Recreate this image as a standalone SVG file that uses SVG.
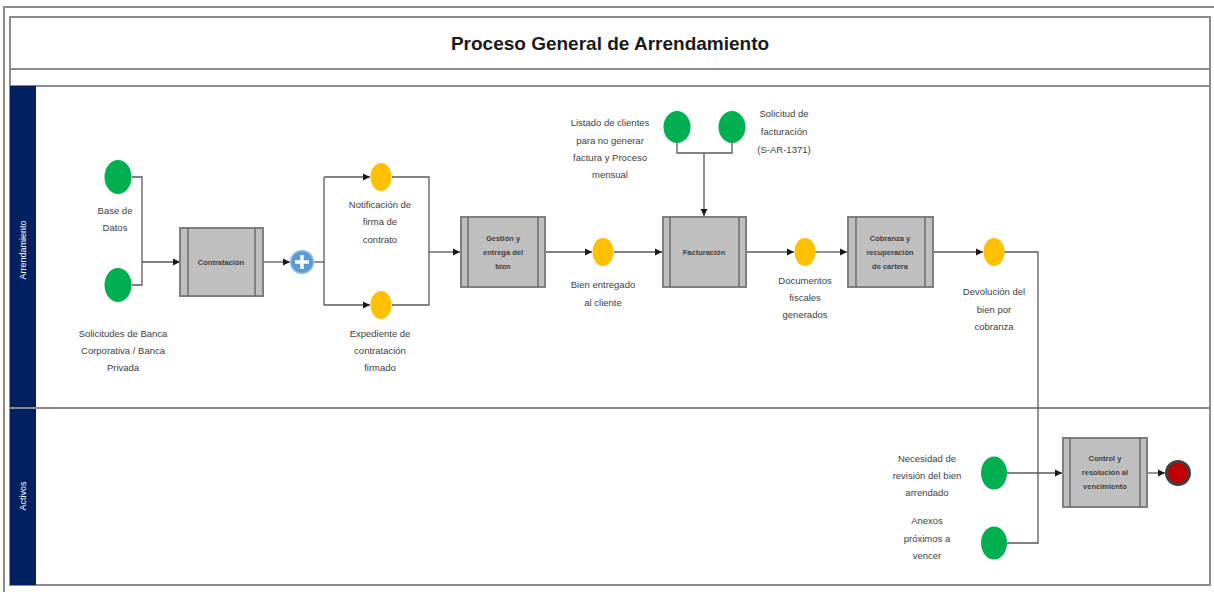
<svg xmlns="http://www.w3.org/2000/svg" width="1214" height="592" viewBox="0 0 1214 592">
<style>
.frame{fill:none;stroke:#8c8c8c;stroke-width:2}
.sep{stroke:#8c8c8c;stroke-width:2}
.lane{fill:#002060}
.lanet{font-family:"Liberation Sans",Arial,sans-serif;font-size:9px;fill:#ffffff}
.title{font-family:"Liberation Sans",Arial,sans-serif;font-size:19px;font-weight:bold;fill:#1a1a1a}
.lbl{font-family:"Liberation Sans",Arial,sans-serif;font-size:9.5px;fill:#404040;text-anchor:middle}
.bt{font-family:"Liberation Sans",Arial,sans-serif;font-size:7.5px;font-weight:bold;fill:#404040;text-anchor:middle}
.box{fill:#bfbfbf;stroke:#7f7f7f;stroke-width:2}
.bl{stroke:#595959;stroke-width:1.2}
.start{fill:#00b050}
.mid{fill:#ffc000}
.end{fill:#c00000;stroke:#404040;stroke-width:3}
.c{fill:none;stroke:#595959;stroke-width:1.3}
.ca{fill:none;stroke:#595959;stroke-width:1.3;marker-end:url(#ah)}
</style>
<defs>
<marker id="ah" markerWidth="8" markerHeight="8" refX="7" refY="4" orient="auto" markerUnits="userSpaceOnUse">
<path d="M0,0.5 L7,4 L0,7.5 z" fill="#1a1a1a"/>
</marker>
</defs>
<rect width="1214" height="592" fill="#ffffff"/>
<g id="frame">
<path d="M4,592 V7 H1214" class="frame"/>
<rect x="10" y="17" width="1200" height="568" class="frame"/>
<line x1="10" y1="69" x2="1210" y2="69" class="sep"/>
<line x1="10" y1="86" x2="1210" y2="86" class="sep"/>
<rect x="10" y="86" width="26" height="499" class="lane"/>
<line x1="10" y1="408" x2="1210" y2="408" class="sep"/>
<text x="610" y="50" class="title" text-anchor="middle">Proceso General de Arrendamiento</text>
<text class="lanet" text-anchor="middle" transform="translate(26,250) rotate(-90)">Arrendamiento</text>
<text class="lanet" text-anchor="middle" transform="translate(26,496) rotate(-90)">Activos</text>
</g>
<g id="connectors">
<path d="M132,177 H142 V285 H132" class="c"/>
<path d="M142,262 H180" class="ca"/>
<path d="M263,262 H290" class="ca"/>
<path d="M313,262 H324" class="c"/>
<path d="M324,177 V305" class="c"/>
<path d="M324,177 H370" class="ca"/>
<path d="M324,305 H370" class="ca"/>
<path d="M392,177 H429 V305 H392" class="c"/>
<path d="M429,252 H460" class="ca"/>
<path d="M545,252 H592" class="ca"/>
<path d="M614,252 H662" class="ca"/>
<path d="M677,143 V153 H732 V143" class="c"/>
<path d="M704,153 V216" class="ca"/>
<path d="M746,252 H794" class="ca"/>
<path d="M815,252 H847" class="ca"/>
<path d="M933,252 H983" class="ca"/>
<path d="M1004,252 H1038 V473" class="c"/>
<path d="M1007,543 H1038 V473" class="c"/>
<path d="M1007,473 H1062" class="ca"/>
<path d="M1147,473 H1165" class="ca"/>
</g>
<g id="n-base"><ellipse cx="118" cy="177" rx="13.5" ry="17" class="start"/><text class="lbl" x="115"><tspan x="115" y="214">Base de</tspan><tspan x="115" y="231">Datos</tspan></text></g>
<g id="n-solicitudes"><ellipse cx="118" cy="285" rx="13.5" ry="17" class="start"/><text class="lbl"><tspan x="123" y="337">Solicitudes de Banca</tspan><tspan x="123" y="354">Corporativa / Banca</tspan><tspan x="123" y="371">Privada</tspan></text></g>
<g id="n-contratacion"><rect x="180" y="228" width="83" height="68" class="box"/><line x1="188" y1="228" x2="188" y2="296" class="bl"/><line x1="255" y1="228" x2="255" y2="296" class="bl"/><text class="bt" x="221" y="265">Contratación</text></g>
<g id="n-gateway"><circle cx="302" cy="262" r="11.5" fill="#5b9bd5" stroke="#9dc3e6" stroke-width="1.5"/><path d="M302,255 V269 M295,262 H309" stroke="#ffffff" stroke-width="3.5"/></g>
<g id="n-notificacion"><ellipse cx="381" cy="177" rx="10.5" ry="14" class="mid"/><text class="lbl"><tspan x="380" y="208">Notificación de</tspan><tspan x="380" y="225">firma de</tspan><tspan x="380" y="243">contrato</tspan></text></g>
<g id="n-expediente"><ellipse cx="381" cy="305" rx="10.5" ry="14" class="mid"/><text class="lbl"><tspan x="380" y="337">Expediente de</tspan><tspan x="380" y="354">contratación</tspan><tspan x="380" y="371">firmado</tspan></text></g>
<g id="n-gestion"><rect x="461" y="217" width="84" height="70" class="box"/><line x1="468" y1="217" x2="468" y2="287" class="bl"/><line x1="538" y1="217" x2="538" y2="287" class="bl"/><text class="bt"><tspan x="503" y="241">Gestión y</tspan><tspan x="503" y="255">entrega del</tspan><tspan x="503" y="269">bien</tspan></text></g>
<g id="n-bien"><ellipse cx="603" cy="252" rx="10.5" ry="14" class="mid"/><text class="lbl"><tspan x="603" y="288">Bien entregado</tspan><tspan x="603" y="306">al cliente</tspan></text></g>
<g id="n-listado"><ellipse cx="677" cy="127" rx="13.5" ry="16" class="start"/><text class="lbl"><tspan x="610" y="126">Listado de clientes</tspan><tspan x="610" y="144">para no generar</tspan><tspan x="610" y="161">factura y Proceso</tspan><tspan x="610" y="178">mensual</tspan></text></g>
<g id="n-solfact"><ellipse cx="732" cy="127" rx="13.5" ry="16" class="start"/><text class="lbl"><tspan x="784" y="117">Solicitud de</tspan><tspan x="784" y="135">facturación</tspan><tspan x="784" y="153">(S-AR-1371)</tspan></text></g>
<g id="n-facturacion"><rect x="663" y="217" width="83" height="70" class="box"/><line x1="670" y1="217" x2="670" y2="287" class="bl"/><line x1="739" y1="217" x2="739" y2="287" class="bl"/><text class="bt" x="704" y="255">Facturación</text></g>
<g id="n-documentos"><ellipse cx="805" cy="252" rx="10.5" ry="14" class="mid"/><text class="lbl"><tspan x="805" y="284">Documentos</tspan><tspan x="805" y="301">fiscales</tspan><tspan x="805" y="318">generados</tspan></text></g>
<g id="n-cobranza"><rect x="848" y="217" width="85" height="70" class="box"/><line x1="856" y1="217" x2="856" y2="287" class="bl"/><line x1="925" y1="217" x2="925" y2="287" class="bl"/><text class="bt"><tspan x="890" y="241">Cobranza y</tspan><tspan x="890" y="255">recuperación</tspan><tspan x="890" y="269">de cartera</tspan></text></g>
<g id="n-devolucion"><ellipse cx="994" cy="252" rx="10.5" ry="14" class="mid"/><text class="lbl"><tspan x="994" y="295">Devolución del</tspan><tspan x="994" y="313">bien por</tspan><tspan x="994" y="330">cobranza</tspan></text></g>
<g id="n-necesidad"><ellipse cx="994" cy="473" rx="13" ry="16.5" class="start"/><text class="lbl"><tspan x="927" y="462">Necesidad de</tspan><tspan x="927" y="479">revisión del bien</tspan><tspan x="927" y="496">arrendado</tspan></text></g>
<g id="n-anexos"><ellipse cx="994" cy="543" rx="13" ry="16.5" class="start"/><text class="lbl"><tspan x="927" y="524">Anexos</tspan><tspan x="927" y="542">próximos a</tspan><tspan x="927" y="559">vencer</tspan></text></g>
<g id="n-control"><rect x="1063" y="438" width="84" height="69" class="box"/><line x1="1070" y1="438" x2="1070" y2="507" class="bl"/><line x1="1140" y1="438" x2="1140" y2="507" class="bl"/><text class="bt"><tspan x="1105" y="461">Control y</tspan><tspan x="1105" y="475">resolución al</tspan><tspan x="1105" y="489">vencimiento</tspan></text></g>
<g id="n-end"><circle cx="1178" cy="473" r="11.5" class="end"/></g>
</svg>
